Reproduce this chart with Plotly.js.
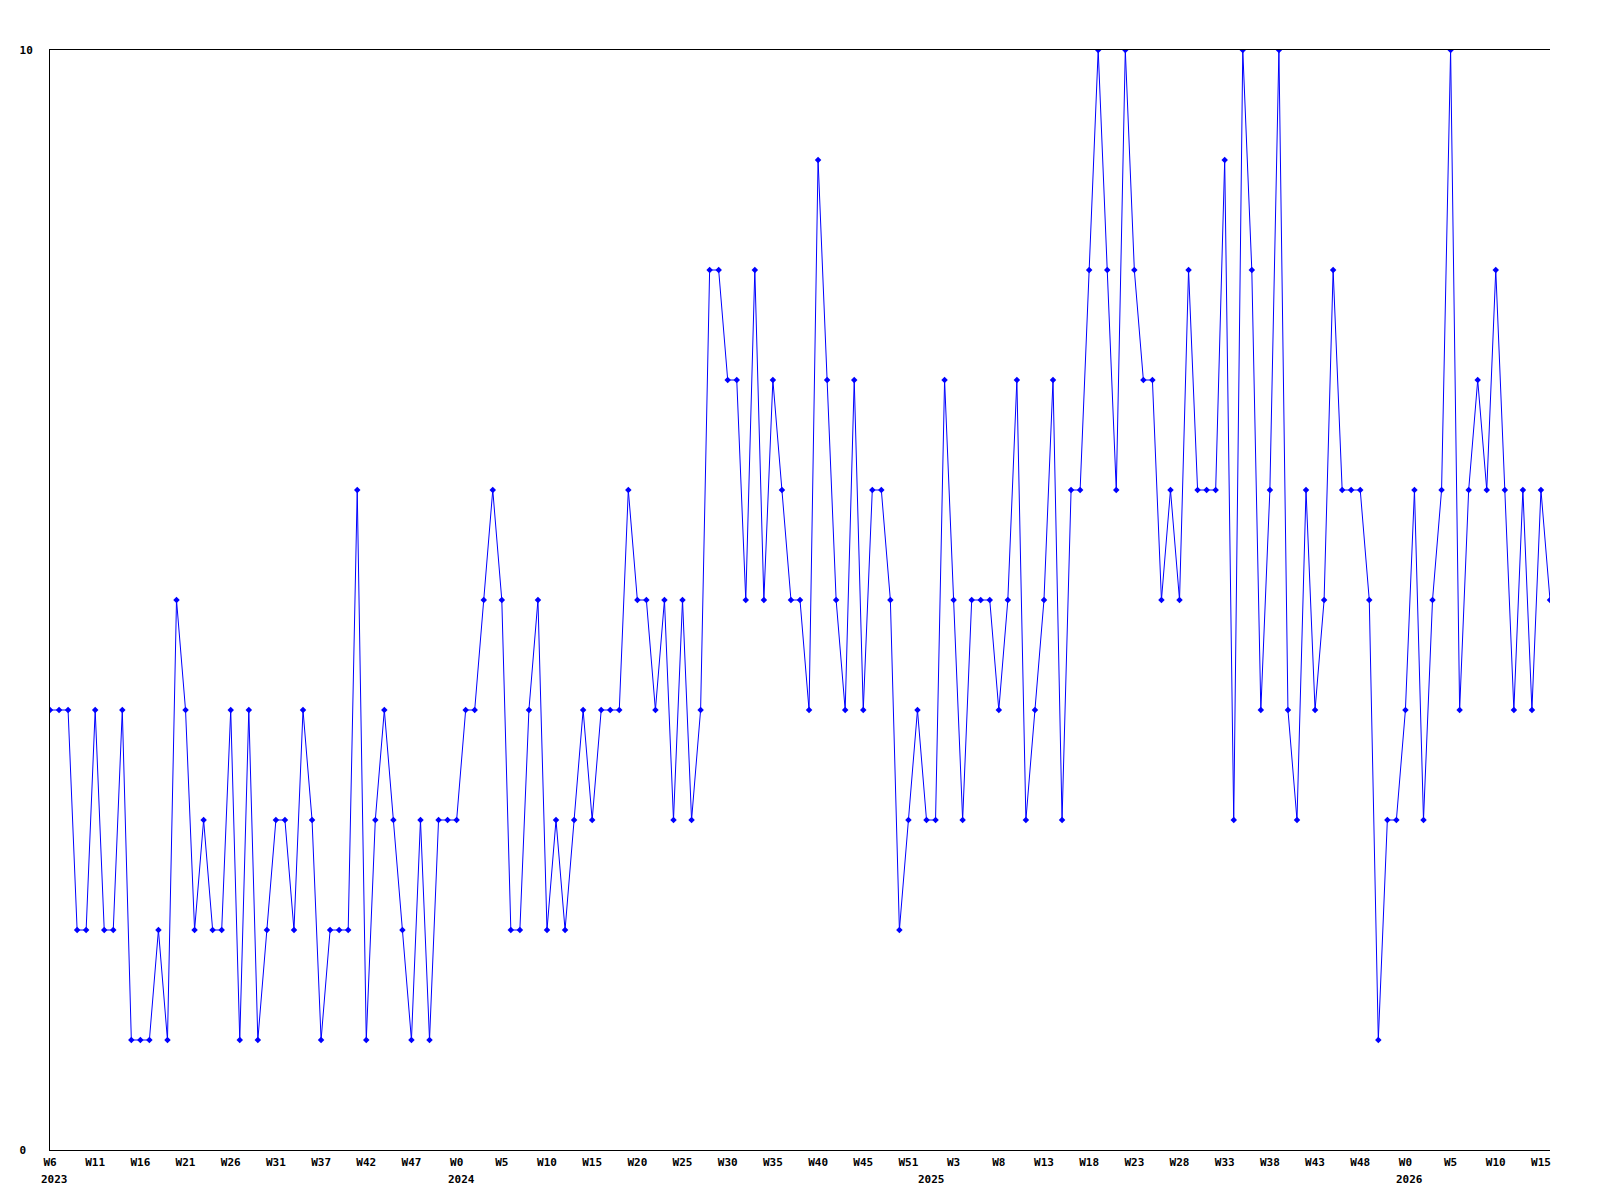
<!DOCTYPE html>
<html>
<head>
<meta charset="utf-8">
<script src="https://cdn.plot.ly/plotly-3.0.1.min.js"></script>
<style>html,body{margin:0;padding:0;background:#fff;}#chart{width:1600px;height:1200px;}</style>
</head>
<body>
<div id="chart"></div>
<script>
// weekly values, one per week, starting 2023 W6
const values = [
  4,4,4,2,2,4,2,2,4,1, 1,1,2,1,5,4,2,3,2,2,
  4,1,4,1,2,3,3,2,4,3, 1,2,2,2,6,1,3,4,3,2,
  1,3,1,3,3,3,4,4,5,6, 5,2,2,4,5,2,3,2,3,4,
  3,4,4,4,6,5,5,4,5,3, 5,3,4,8,8,7,7,5,8,5,
  7,6,5,5,4,9,7,5,4,7, 4,6,6,5,2,3,4,3,3,7,
  5,3,5,5,5,4,5,7,3,4, 5,7,3,6,6,8,10,8,6,10,
  8,7,7,5,6,5,8,6,6,6, 9,3,10,8,4,6,10,4,3,6,
  4,5,8,6,6,6,5,1,3,3, 4,6,3,5,6,10,4,6,7,6,
  8,6,4,6,4,6,5
];
// x tick labels, one every 5 weeks
const weekLabels = ['W6','W11','W16','W21','W26','W31','W37','W42','W47','W0',
  'W5','W10','W15','W20','W25','W30','W35','W40','W45','W51',
  'W3','W8','W13','W18','W23','W28','W33','W38','W43','W48',
  'W0','W5','W10','W15'];
const tickStep = 5;
// year labels and the week index where each year starts
const yearLabels = ['2023','2024','2025','2026'];
const yearStartIndex = [0,45,97,150];
const yTickVals = [0,10];
const yTickText = ['0\u00a0','10'];

const xIdx = values.map((v,i)=>i);
const tickvals = weekLabels.map((w,i)=>i*tickStep);

const font = {family:'"DejaVu Sans Mono", monospace', size:11, color:'#000', weight:'bold'};

const trace = {
  x: xIdx, y: values, type:'scatter', mode:'lines+markers',
  line:{color:'#0000ff', width:1},
  marker:{color:'#0000ff', symbol:'diamond', size:5},
  hoverinfo:'skip'
};

const annotations = yearLabels.map((y,k)=>({
  text:y, x:yearStartIndex[k], xref:'x', y:0, yref:'paper',
  xanchor:'left', yanchor:'top', xshift:-11, yshift:-21,
  showarrow:false, font:font
}));

const layout = {
  width:1600, height:1200,
  margin:{l:50, r:50, t:50, b:50},
  paper_bgcolor:'#fff', plot_bgcolor:'#fff',
  showlegend:false,
  font:font,
  xaxis:{
    range:[0, values.length-1], showgrid:false, zeroline:false,
    showline:true, linecolor:'#000', linewidth:1, mirror:true,
    ticks:'', tickmode:'array', tickvals:tickvals, ticktext:weekLabels,
    tickfont:font, ticklabelstandoff:2, fixedrange:true
  },
  yaxis:{
    range:[0,10], showgrid:false, zeroline:false,
    showline:true, linecolor:'#000', linewidth:1,
    ticks:'', tickmode:'array', tickvals:yTickVals, ticktext:yTickText,
    tickfont:font, ticklabelstandoff:14, fixedrange:true
  },
  annotations: annotations
};

Plotly.newPlot('chart', [trace], layout, {displayModeBar:false, staticPlot:true});
</script>
</body>
</html>
